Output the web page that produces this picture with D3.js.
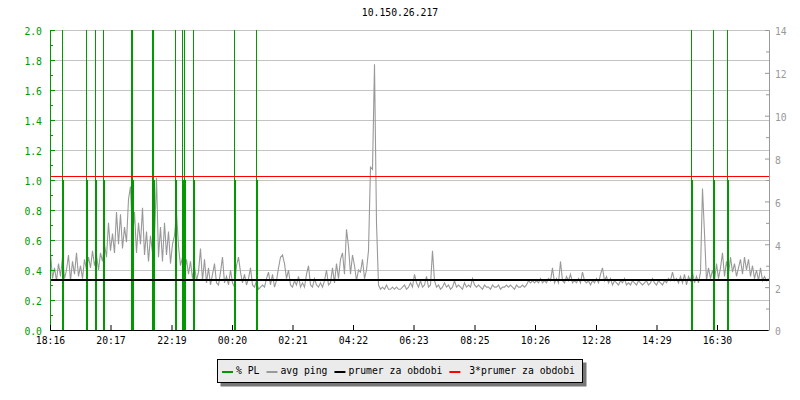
<!DOCTYPE html>
<html>
<head>
<meta charset="utf-8">
<title>10.150.26.217</title>
<script src="https://cdn.jsdelivr.net/npm/d3@7"></script>
<style>
    body { margin: 0; background: #fff; }
    svg { display: block; }
    text { font-family: "DejaVu Sans Mono", monospace; }
</style>
</head>
<body>
<svg id="chart" width="800" height="400"></svg>
<script>
var title = "10.150.26.217";

var xTickLabels = ["18:16", "20:17", "22:19", "00:20", "02:21", "04:22",
    "06:23", "08:25", "10:26", "12:28", "14:29", "16:30"];
var plTicks = [0, 0.2, 0.4, 0.6, 0.8, 1.0, 1.2, 1.4, 1.6, 1.8, 2.0];
var pingTicks = [0, 2, 4, 6, 8, 10, 12, 14];

// avg ping in ms, one sample every 4 minutes from 18:16
var pingStart = "18:16";
var pingStepMinutes = 4;
var pingValues = [
    3.6, 2.4, 2.9, 2.3, 3.1, 2.5, 3.4, 2.4, 2.8, 3.5, 2.3, 3.2, 2.6, 3.6, 2.5, 3.0, 2.4, 3.3,
    2.8, 3.4, 2.9, 3.7, 3.0, 3.5, 2.8, 3.6,
    3.2, 4.0, 3.4, 5.0, 3.7, 4.5, 3.6, 5.5, 4.0, 5.4, 3.8, 4.8, 4.1, 6.1, 6.7,
    4.2, 5.5, 3.6, 5.0, 4.0, 5.7, 3.5, 4.6, 3.2, 4.4,
    3.6, 4.3, 7.1, 3.4, 4.8, 3.2, 5.0, 3.5, 4.6, 3.1, 4.0,
    4.4, 5.5, 3.9, 3.0, 3.4, 2.6, 3.3,
    2.6, 3.2, 2.4, 3.0, 2.3, 2.7, 3.8,
    2.3, 3.3, 2.2, 2.9, 2.1, 2.6, 3.1, 2.2, 2.1, 2.7, 3.4, 2.2, 2.5, 2.1, 2.8,
    2.2, 2.0, 3.0, 3.4, 2.7, 2.2, 2.6, 2.1, 2.4, 2.9, 2.1, 2.0, 2.3, 1.9,
    2.0, 2.1, 2.0, 2.4, 2.7, 2.1, 2.6, 2.0, 2.3, 2.9, 3.4, 3.5, 3.1, 2.4, 2.8,
    2.1, 2.0, 2.3, 2.1, 2.5, 2.0, 2.2, 2.0, 2.6, 3.0, 2.1, 2.0, 2.4, 2.1, 2.0,
    2.2, 2.0, 2.3, 2.8, 2.1, 2.2,
    2.9, 2.2, 3.1, 2.4, 3.3, 3.6, 2.6, 4.7, 3.9, 2.6, 3.5, 3.0, 2.3, 2.8, 2.7,
    3.3, 2.4, 2.8, 3.7,
    7.6, 7.5, 12.4, 5.0,
    2.1, 1.9, 2.0, 1.9, 2.1, 1.9, 1.9, 2.0, 1.9, 2.0, 1.9, 1.9, 2.0, 2.1, 1.9,
    2.0, 2.2, 2.0, 2.6, 2.2, 2.0, 2.3, 2.0, 2.1, 2.5, 2.0, 2.1,
    3.7, 2.3, 2.0, 2.1, 1.9, 2.0, 2.2, 2.0, 2.1, 1.9, 2.0, 2.3, 2.0, 2.1, 2.0,
    1.9, 2.2, 2.0, 2.1, 2.0, 2.4, 2.1, 2.0, 2.1, 2.0, 1.9, 2.1, 2.0, 2.0, 1.9,
    2.1, 2.0, 2.0, 2.1, 1.9, 2.0, 2.0, 2.1, 2.0, 2.1, 2.0, 1.9, 2.1, 2.0, 2.0,
    2.1, 2.0, 2.1, 2.3, 2.2, 2.3, 2.2, 2.3, 2.2, 2.4, 2.2, 2.3, 2.2, 2.4, 2.3,
    2.9, 2.2, 2.4, 2.2, 3.2, 2.3, 2.2, 2.5, 2.3, 2.6, 2.2, 2.3, 2.2, 2.4, 2.2,
    2.7, 2.3, 2.2, 2.3, 2.1, 2.3, 2.2, 2.4, 2.2, 2.6, 2.9, 2.3, 2.5, 2.2, 2.4,
    2.1, 2.3, 2.2, 2.1, 2.3, 2.2, 2.4, 2.1, 2.2, 2.1, 2.3, 2.2, 2.1, 2.3, 2.2,
    2.1, 2.2, 2.3, 2.1, 2.2, 2.4, 2.2, 2.1, 2.3, 2.2, 2.1, 2.3, 2.2, 2.4, 2.3,
    2.7, 2.3, 2.4, 2.2, 2.5,
    2.2, 2.6, 2.1, 2.5, 2.3, 2.7, 2.2, 2.5, 2.2, 2.7,
    6.6, 4.5, 2.3, 2.9, 2.4, 2.8, 2.3, 3.1, 2.4, 2.9, 3.6, 2.5, 3.2, 2.6, 3.4,
    2.7, 3.1, 2.5, 2.9, 3.3, 2.6, 3.4, 2.8, 3.3, 2.5, 3.0, 2.4, 2.8, 2.3, 2.9,
    2.3, 2.5, 2.3, 2.4
];

var avgPing = 2.34;       // prumer za obdobi (ms)
var avgPingLimit = 7.16;  // 3*prumer za obdobi (ms)

// packet loss events
var plTimes = ["18:40", "19:28", "19:46", "20:02", "20:58", "21:00", "21:40", "21:42",
    "22:26", "22:40", "22:44", "23:02", "00:24", "01:08", "15:38", "16:22", "16:50"];
var plValues = [1, 1, 1, 1, 1, 1, 1, 1, 1, 1, 1, 1, 1, 1, 1, 1, 1];
var plPeaks = [100, 100, 100, 100, 100, 100, 100, 100, 100, 100, 100, 100, 100, 100, 100, 100, 100];

var legendLabels = ["% PL", "avg ping", "prumer za obdobi", " 3*prumer za obdobi"];
var legendColors = ["#009900", "#999999", "#000000", "#ff0000"];

document.addEventListener('DOMContentLoaded', main);

function parseTime(s) {
    var p = s.split(':');
    var h = +p[0], m = +p[1];
    var d = new Date(2020, 0, 1, h, m);
    if (h < 18 || (h === 18 && m < 16)) {
        d = d3.timeDay.offset(d, 1);
    }
    return d;
}

function main() {
    var svg = d3.select('#chart');
    var left = 50, right = 769, top = 30, bottom = 330;
    var green = '#009900';

    var start = parseTime(pingStart);
    var end = d3.timeMinute.offset(start, 1436);

    var x = d3.scaleTime().domain([start, end]).range([left, 768]);
    var yPl = d3.scaleLinear().domain([0, 2]).range([bottom, top]);
    var yPing = d3.scaleLinear().domain([0, 14]).range([bottom, top]);

    svg.append('rect')
        .attr('width', 800)
        .attr('height', 400)
        .attr('fill', '#ffffff');

    svg.append('defs').append('clipPath')
        .attr('id', 'plot')
        .append('rect')
            .attr('x', left)
            .attr('y', top)
            .attr('width', right - left + 1)
            .attr('height', bottom - top);

    // title
    svg.append('text')
        .attr('x', 400)
        .attr('y', 16)
        .attr('text-anchor', 'middle')
        .attr('font-size', '9.75px')
        .attr('fill', '#000')
        .text(title);

    // grid
    svg.append('g')
        .selectAll('line')
        .data(plTicks.filter(function (d) { return d > 0; }))
        .enter().append('line')
            .attr('x1', left)
            .attr('x2', right + 1)
            .attr('y1', function (d) { return Math.round(yPl(d)) + 0.5; })
            .attr('y2', function (d) { return Math.round(yPl(d)) + 0.5; })
            .attr('stroke', '#c4c4c4')
            .attr('stroke-width', 1);

    var plot = svg.append('g').attr('clip-path', 'url(#plot)');

    // avg ping
    var pingLine = d3.line()
        .x(function (d, i) { return x(d3.timeMinute.offset(start, i * pingStepMinutes)) + 0.5; })
        .y(function (d) { return yPing(d); });

    plot.append('path')
        .datum(pingValues)
        .attr('d', pingLine)
        .attr('fill', 'none')
        .attr('stroke', '#999999')
        .attr('stroke-width', 1.1)
        .attr('stroke-linejoin', 'miter');

    // packet loss
    var pl = plTimes.map(function (t, i) {
        return { time: parseTime(t), value: plValues[i], peak: plPeaks[i] };
    });

    plot.append('g')
        .selectAll('line')
        .data(pl)
        .enter().append('line')
            .attr('x1', function (d) { return Math.round(x(d.time)) + 0.5; })
            .attr('x2', function (d) { return Math.round(x(d.time)) + 0.5; })
            .attr('y1', bottom)
            .attr('y2', function (d) { return yPl(d.peak); })
            .attr('stroke', green)
            .attr('stroke-width', 1);

    plot.append('g')
        .selectAll('rect')
        .data(pl)
        .enter().append('rect')
            .attr('x', function (d) { return Math.round(x(d.time)); })
            .attr('width', 2)
            .attr('y', function (d) { return yPl(d.value); })
            .attr('height', function (d) { return bottom - yPl(d.value); })
            .attr('fill', green);

    // prumer + 3*prumer
    plot.append('line')
        .attr('x1', left)
        .attr('x2', right)
        .attr('y1', Math.round(yPing(avgPing)))
        .attr('y2', Math.round(yPing(avgPing)))
        .attr('stroke', '#000')
        .attr('stroke-width', 2);

    plot.append('line')
        .attr('x1', left)
        .attr('x2', right)
        .attr('y1', Math.floor(yPing(avgPingLimit)) + 0.5)
        .attr('y2', Math.floor(yPing(avgPingLimit)) + 0.5)
        .attr('stroke', '#ff0000')
        .attr('stroke-width', 1);

    // left axis (% PL)
    var leftMinor = d3.range(0.1, 2, 0.2);
    svg.append('g')
        .attr('transform', 'translate(' + left + ',0)')
        .call(d3.axisLeft(yPl).tickValues(leftMinor).tickSizeInner(-3).tickSizeOuter(0).tickFormat(''))
        .call(function (g) { g.select('.domain').remove(); })
        .selectAll('line').attr('stroke', green);

    var leftAxis = svg.append('g')
        .attr('transform', 'translate(' + left + ',0)')
        .call(d3.axisLeft(yPl)
            .tickValues(plTicks)
            .tickSizeInner(-5)
            .tickSizeOuter(0)
            .tickPadding(8)
            .tickFormat(d3.format('.1f')))
        .attr('font-family', '"DejaVu Sans Mono", monospace')
        .attr('font-size', '9.75px');
    leftAxis.select('.domain').attr('stroke', green);
    leftAxis.selectAll('line').attr('stroke', green);
    leftAxis.selectAll('text').attr('fill', green).attr('dy', '0.5em');

    // right axis (ping)
    var rightMinor = d3.range(1, 14, 2);
    svg.append('g')
        .attr('transform', 'translate(' + right + ',0)')
        .call(d3.axisRight(yPing).tickValues(rightMinor).tickSizeInner(-3).tickSizeOuter(0).tickFormat(''))
        .call(function (g) { g.select('.domain').remove(); })
        .selectAll('line').attr('stroke', '#999999');

    var rightAxis = svg.append('g')
        .attr('transform', 'translate(' + right + ',0)')
        .call(d3.axisRight(yPing)
            .tickValues(pingTicks)
            .tickSizeInner(-4)
            .tickSizeOuter(0)
            .tickPadding(6)
            .tickFormat(d3.format('d')))
        .attr('font-family', '"DejaVu Sans Mono", monospace')
        .attr('font-size', '9.75px');
    rightAxis.select('.domain').attr('stroke', '#999999');
    rightAxis.selectAll('line').attr('stroke', '#999999');
    rightAxis.selectAll('text').attr('fill', '#999999').attr('dy', '0.5em');

    // time axis
    var bottomAxis = svg.append('g')
        .attr('transform', 'translate(0,' + bottom + ')')
        .call(d3.axisBottom(x)
            .tickValues(xTickLabels.map(parseTime))
            .tickSizeInner(-5)
            .tickSizeOuter(0)
            .tickPadding(7)
            .tickFormat(d3.timeFormat('%H:%M')))
        .attr('font-family', '"DejaVu Sans Mono", monospace')
        .attr('font-size', '9.75px');
    bottomAxis.selectAll('text').attr('fill', '#000');
    bottomAxis.select('.domain').attr('stroke', '#000');

    // legend
    var legend = svg.append('g');
    var shadow = legend.append('rect').attr('fill', '#777777');
    var box = legend.append('rect').attr('fill', '#ebebeb').attr('stroke', '#000').attr('stroke-width', 1);

    var cx = 222;
    legendLabels.forEach(function (label, i) {
        legend.append('rect')
            .attr('x', cx)
            .attr('y', 371)
            .attr('width', 11)
            .attr('height', 2)
            .attr('fill', legendColors[i]);
        var t = legend.append('text')
            .attr('x', cx + 14)
            .attr('y', 374)
            .attr('font-size', '9.75px')
            .attr('fill', '#000')
            .style('white-space', 'pre')
            .text(label);
        cx = cx + 14 + t.node().getComputedTextLength() + 7;
    });

    var boxW = Math.round(cx - 217);
    box.attr('x', 217.5).attr('y', 359.5).attr('width', boxW).attr('height', 23);
    shadow.attr('x', 220.5).attr('y', 362.5).attr('width', boxW + 1).attr('height', 24);
}
</script>
</body>
</html>
